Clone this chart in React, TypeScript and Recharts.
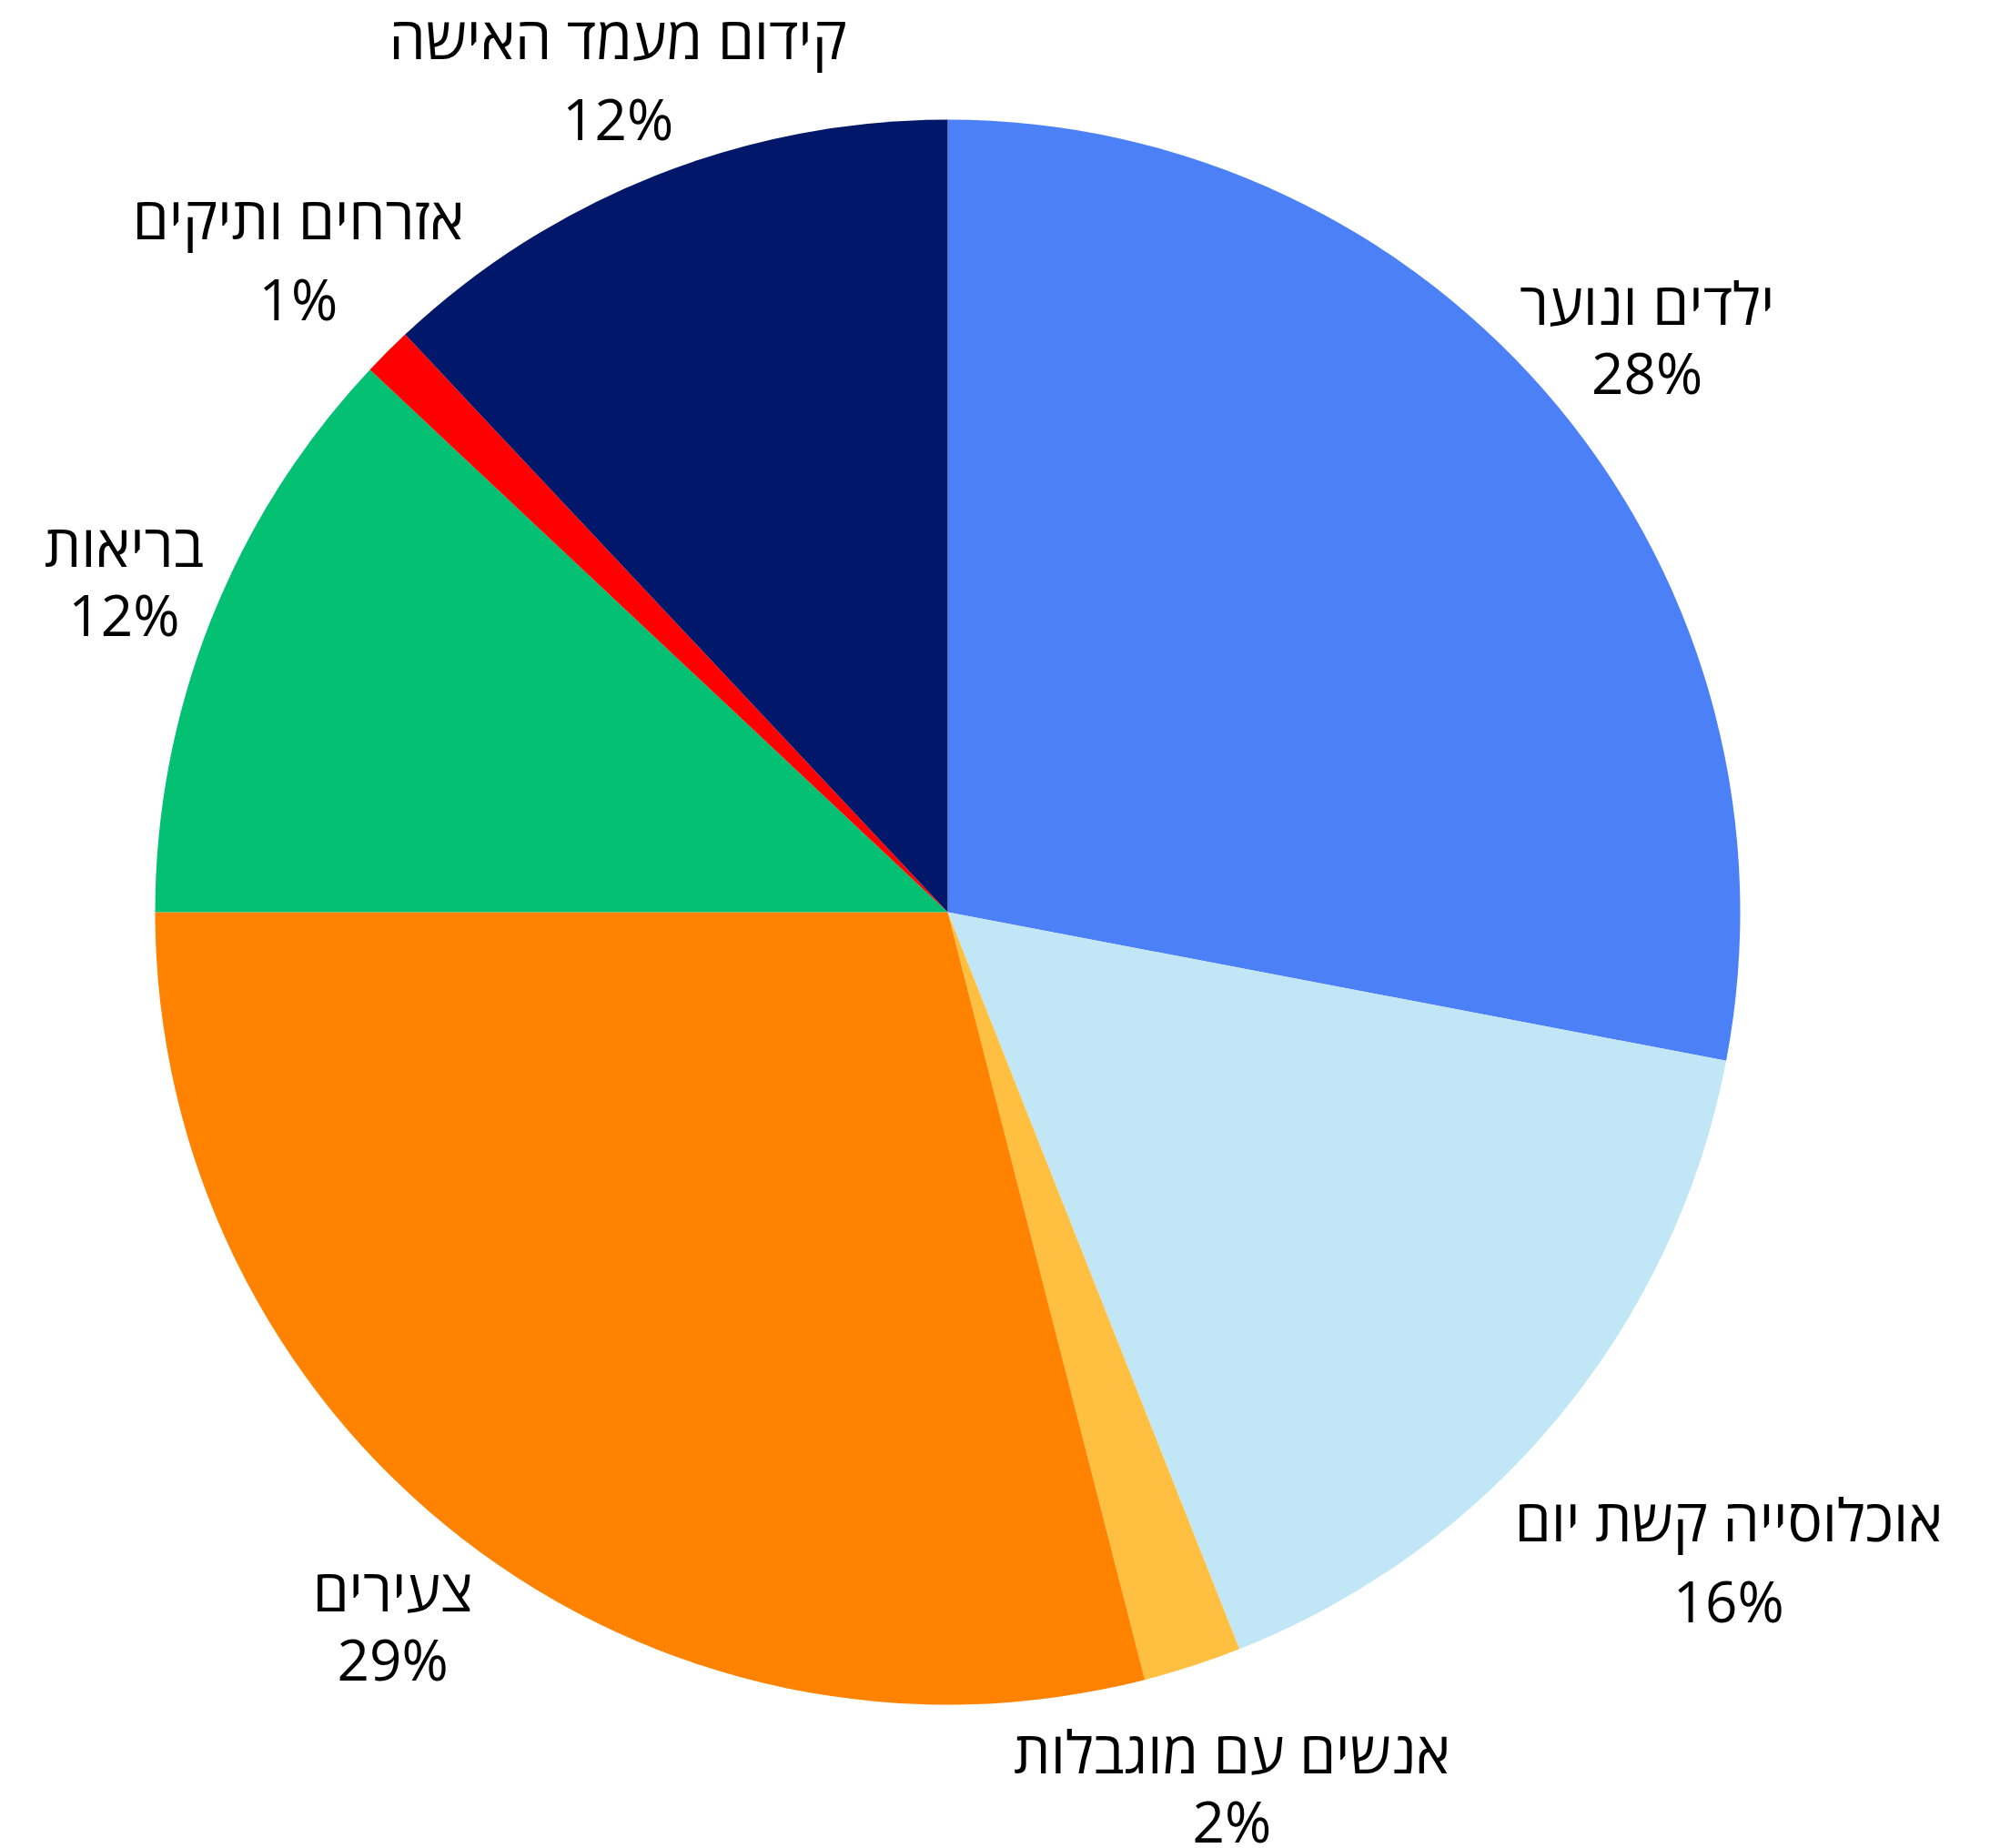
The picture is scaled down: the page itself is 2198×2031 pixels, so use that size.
import { PieChart, Pie, Cell } from "recharts";

const categories = [
  "ילדים ונוער",
  "אוכלוסייה קשת יום",
  "אנשים עם מוגבלות",
  "צעירים",
  "בריאות",
  "אזרחים ותיקים",
  "קידום מעמד האישה",
];
const shares = [28, 16, 2, 29, 12, 1, 12];
const colors = ["#4C80F7", "#C1E6F6", "#FFBF40", "#FF8200", "#04C072", "#FF0000", "#00176A"];

const data = categories.map((name, i) => ({ name, value: shares[i] }));

const RAD = Math.PI / 180;
const FONT = "'Open Sans', 'Liberation Sans', sans-serif";

// labels in the original were hand-placed a bit; small nudges [radial, dx, dy]
const labelNudge: Record<string, [number, number, number]> = {
  "ילדים ונוער": [0, 2, 7],
  "אוכלוסייה קשת יום": [115, 3, 8],
  "אנשים עם מוגבלות": [0, 5, 18],
  "צעירים": [0, 0, 0],
  "בריאות": [0, 20, 5],
  "אזרחים ותיקים": [0, -10, -11],
  "קידום מעמד האישה": [0, 4, 12],
};

const renderLabel = (props: any) => {
  const { cx, cy, midAngle, outerRadius, percent, name } = props;
  const [push, nx, ny] = labelNudge[name] || [0, 0, 0];
  const r = outerRadius + 124 + push;
  const x = cx + r * Math.cos(-midAngle * RAD) + nx;
  const y = cy + r * Math.sin(-midAngle * RAD) + ny;
  // names with a descending qof get extra leading, like the original
  const lineGap = name.includes("ק") ? 89 : 76;
  return (
    <g>
      <text x={x} y={y + 20 - lineGap / 2} textAnchor="middle" fill="#000" fontSize={64} fontFamily={FONT}>
        {name}
      </text>
      <text x={x} y={y + 20 + lineGap / 2} textAnchor="middle" fill="#000" fontSize={62} fontFamily={FONT}>
        {Math.round(percent * 100)}%
      </text>
    </g>
  );
};

export default function App() {
  return (
    <div style={{ position: "absolute", left: 0, top: 0, background: "#fff" }}>
      <PieChart width={2198} height={2031} margin={{ top: 0, right: 0, bottom: 0, left: 0 }}>
        <Pie
          data={data}
          dataKey="value"
          nameKey="name"
          cx={1041.5}
          cy={1002.5}
          outerRadius={871}
          startAngle={90}
          endAngle={-270}
          stroke="none"
          labelLine={false}
          label={renderLabel}
          isAnimationActive={false}
        >
          {data.map((d, i) => (
            <Cell key={d.name} fill={colors[i]} />
          ))}
        </Pie>
      </PieChart>
    </div>
  );
}
